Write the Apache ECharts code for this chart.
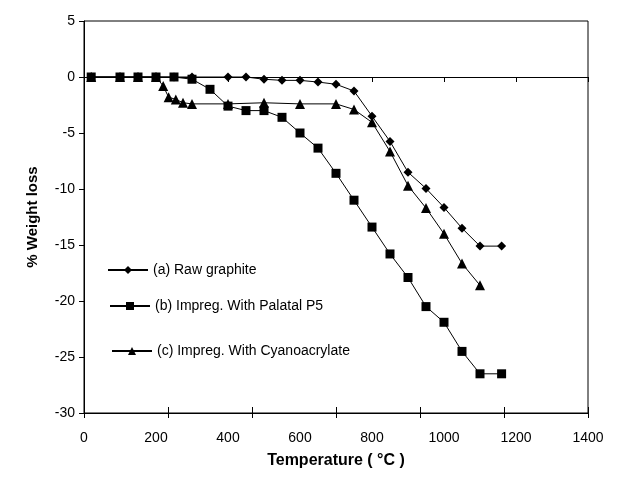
<!DOCTYPE html>
<html><head><meta charset="utf-8">
<script src="https://cdn.jsdelivr.net/npm/echarts@6/dist/echarts.min.js"></script>
<style>html,body{margin:0;padding:0;background:#fff}#c{width:617px;height:490px}</style>
</head><body><div id="c"></div>
<script>
// Data
const seriesNames = ['(a) Raw graphite', '(b) Impreg. With Palatal P5', '(c) Impreg. With Cyanoacrylate'];
const tempA = [20,100,150,200,250,300,400,450,500,550,600,650,700,750,800,850,900,950,1000,1050,1100,1160];
const lossA = [0,0,0,0,0,0,0,0,-0.2,-0.3,-0.3,-0.45,-0.65,-1.25,-3.5,-5.75,-8.5,-9.95,-11.65,-13.5,-15.1,-15.1];
const tempB = [20,100,150,200,250,300,350,400,450,500,550,600,650,700,750,800,850,900,950,1000,1050,1100,1160];
const lossB = [0,0,0,0,0,-0.2,-1.1,-2.6,-3.0,-3.0,-3.6,-5.0,-6.35,-8.6,-11.0,-13.4,-15.8,-17.9,-20.5,-21.9,-24.5,-26.5,-26.5];
const tempC = [20,100,150,200,220,235,255,275,300,400,500,600,700,750,800,850,900,950,1000,1050,1100];
const lossC = [0,0,0,0,-0.8,-1.8,-2.0,-2.3,-2.4,-2.4,-2.3,-2.4,-2.4,-2.9,-4.05,-6.65,-9.7,-11.7,-14.0,-16.65,-18.6];
const xTicks = [0,200,400,600,800,1000,1200,1400];
const yTicks = [-30,-25,-20,-15,-10,-5,0,5];

const zip = (xs, ys) => xs.map((x, i) => [x, ys[i]]);
const font = 'Liberation Sans, Arial, sans-serif';
const symbols = ['diamond', 'rect', 'triangle'];
const sizes = [9, 9, 10];
const datas = [zip(tempA, lossA), zip(tempB, lossB), zip(tempC, lossC)];

const chart = echarts.init(document.getElementById('c'), null, {renderer: 'canvas'});
const legendPos = [[102, 258], [104, 294], [106, 339]];
chart.setOption({
  backgroundColor: '#fff',
  animation: false,
  grid: {left: 84, right: 29, top: 21, bottom: 77, show: true, borderColor: '#000', borderWidth: 1, backgroundColor: 'transparent'},
  legend: seriesNames.map((n, i) => ({
    data: [n], left: legendPos[i][0], top: legendPos[i][1], orient: 'vertical',
    itemWidth: 40, itemHeight: 10, itemGap: 5,
    textStyle: {fontFamily: font, fontSize: 14, color: '#000'}
  })),
  xAxis: [
    {type: 'value', min: xTicks[0], max: xTicks[xTicks.length - 1], interval: 200, position: 'bottom',
     axisLine: {onZero: false, lineStyle: {color: '#000', width: 1}},
     axisTick: {show: false}, splitLine: {show: false},
     axisLabel: {fontFamily: font, fontSize: 14, color: '#000', margin: 18, formatter: v => String(v)},
     name: 'Temperature ( °C )', nameLocation: 'middle', nameGap: 40,
     nameTextStyle: {fontFamily: font, fontSize: 16, fontWeight: 'bold', color: '#000'}},
    {type: 'value', min: 0, max: 1400, interval: 1400 / 6, position: 'bottom', offset: -6,
     axisLine: {show: false, onZero: false}, axisLabel: {show: false}, splitLine: {show: false},
     axisTick: {show: true, length: 11, lineStyle: {color: '#000'}}},
    {type: 'value', min: 0, max: 1400, interval: 200, position: 'bottom',
     axisLine: {onZero: true, lineStyle: {color: '#000', width: 1}}, axisLabel: {show: false}, splitLine: {show: false},
     axisTick: {show: true, length: 5, lineStyle: {color: '#000'}}}
  ],
  yAxis: {type: 'value', min: yTicks[0], max: yTicks[yTicks.length - 1], interval: 5,
    axisLine: {show: true, onZero: false, lineStyle: {color: '#000', width: 1}},
    axisTick: {show: true, length: 5, lineStyle: {color: '#000'}},
    splitLine: {show: false},
    axisLabel: {fontFamily: font, fontSize: 14, color: '#000', margin: 9},
    name: '% Weight loss', nameLocation: 'middle', nameGap: 44, nameRotate: 90,
    nameTextStyle: {fontFamily: font, fontSize: 15, fontWeight: 'bold', color: '#000'}},
  series: seriesNames.map((n, i) => ({
    name: n, type: 'line', data: datas[i], xAxisIndex: 0,
    symbol: symbols[i], symbolSize: sizes[i], showAllSymbol: true,
    lineStyle: {color: '#000', width: 1}, itemStyle: {color: '#000', borderWidth: 0},
    z: 3 - i
  }))
});
</script></body></html>
